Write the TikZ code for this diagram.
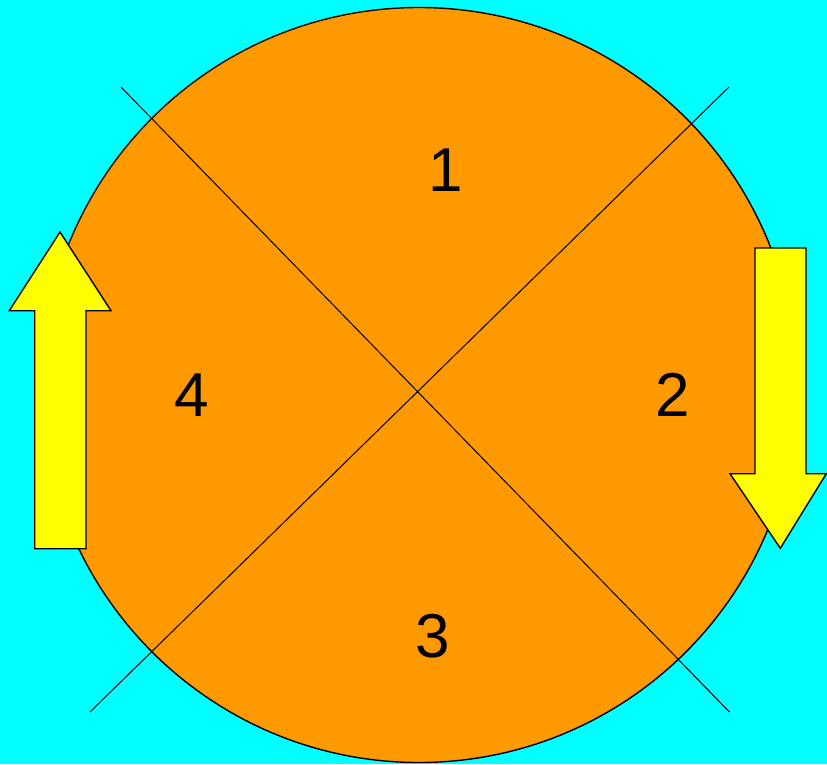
\documentclass[tikz,border=0pt]{standalone}
\usepackage{fontspec}
\setmainfont{Liberation Sans}
\definecolor{bgcyan}{HTML}{00FFFF}
\definecolor{disc}{HTML}{FF9900}
\definecolor{arrowyellow}{HTML}{FFFF00}
\begin{document}
\begin{tikzpicture}[x=1pt,y=-1pt,
  outline/.style={draw=black,line width=1.4pt,line join=miter},
  divider/.style={draw=black,line width=1pt},
  bigarrow/.style={outline,fill=arrowyellow},
  digit/.style={font=\fontsize{62}{62}\selectfont,inner sep=0pt,text=black}]
\fill[bgcyan] (0,0) rectangle (827,764);
\useasboundingbox (0,0) rectangle (827,764);
% disc
\draw[outline,fill=disc] (419,385) circle[radius=377.5];
% dividing lines
\coordinate (tl) at (121,87);
\coordinate (br) at (729.5,712);
\coordinate (tr) at (729,87);
\coordinate (bl) at (90,712);
\draw[divider] (tl) -- (br);
\draw[divider] (tr) -- (bl);
% arrows
\draw[bigarrow] (60,232) -- (111,310.7) -- (86,310.7) -- (86,548.7) -- (34.7,548.7) -- (34.7,310.7) -- (9.3,310.7) -- cycle;
\draw[bigarrow] (780.3,548.3) -- (826.3,473.7) -- (806,473.7) -- (806,248) -- (755,248) -- (755,473.7) -- (730,473.7) -- cycle;
% labels
\node[digit] (n1) at (446,170) {1};
\node[digit] (n2) at (673,395) {2};
\node[digit] (n3) at (433,636) {3};
\node[digit] (n4) at (192,395) {4};
\end{tikzpicture}
\end{document}
